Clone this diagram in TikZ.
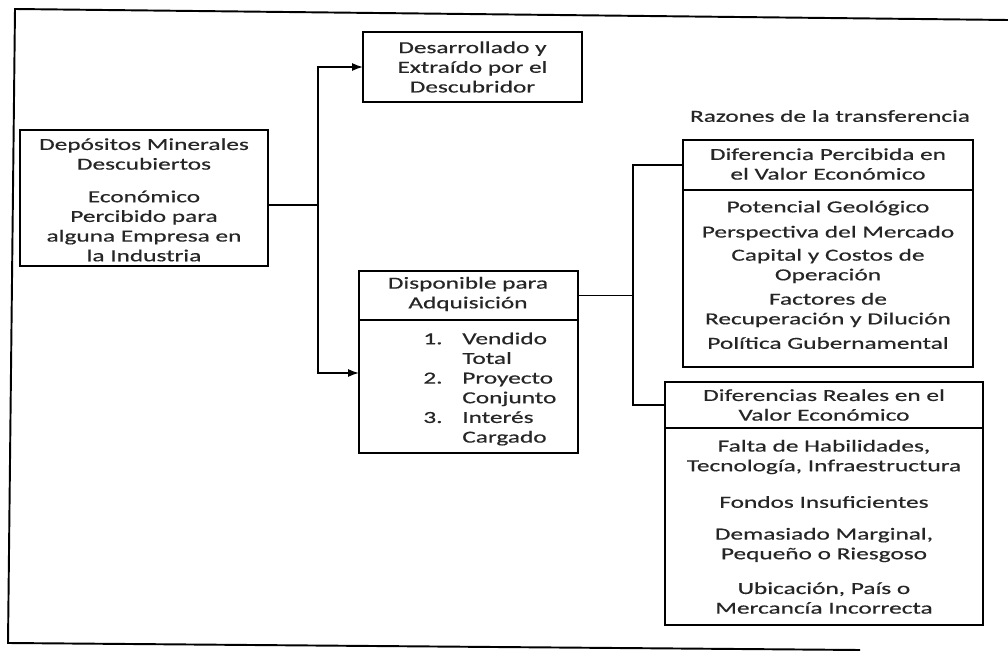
\documentclass[tikz,border=0pt]{standalone}
\usepackage{fontspec}
\usetikzlibrary{arrows.meta,fit}
\newfontfamily\boxfont[FakeStretch=1.5,FakeBold=0.5]{Carlito}
\tikzset{
  box/.style={draw, line width=0.9pt, inner sep=0pt, outer sep=0pt},
  txt/.style={align=center, inner sep=0pt, text=black!85, font=\boxfont\fontsize{9.6}{11.2}\selectfont},
  link/.style={line width=0.8pt},
  tip/.style={-{Latex[length=2.2mm,width=1.6mm]}}
}
\begin{document}
\begin{tikzpicture}[x=0.02cm,y=-0.02cm]
            \useasboundingbox (0,0) rectangle (1008,652);
            
            % Drawing outer frame
            \draw [line width=1.1pt] (1008,20) -- (15,9) -- (8,643) -- (860,650);%
            
            % Drawing box dep
            \node (dep) [box, fit={(20,130) (268,266)}] {};%
            \node (depa) [txt] at (144,154) {Depósitos Minerales\\Descubiertos};%
            \node (depb) [txt] at (144,226) {Económico\\Percibido para\\alguna Empresa en\\la Industria};%
            
            % Drawing box des
            \node (des) [box, fit={(363,32) (582,102)}] {};%
            \node (desa) [txt] at (des.center) {Desarrollado y\\Extraído por el\\Descubridor};%
            
            % Drawing box dpt / dpb
            \node (dpt) [box, fit={(359,271) (578,320)}] {};%
            \node (dpb) [box, fit={(359,320) (578,453)}] {};%
            \node (dpta) [txt] at (468,294) {Disponible para\\Adquisición};%
            \node (dpba) [txt, align=left, anchor=west] at (423,389)
              {\makebox[0.78cm][l]{1.}Vendido\\\hspace*{0.78cm}Total\\
               \makebox[0.78cm][l]{2.}Proyecto\\\hspace*{0.78cm}Conjunto\\
               \makebox[0.78cm][l]{3.}Interés\\\hspace*{0.78cm}Cargado};%
            
            % Drawing title raz
            \node (raz) [txt] at (830,116) {Razones de la transferencia};%
            
            % Drawing box pct / pcb
            \node (pct) [box, fit={(683,140) (973,190)}] {};%
            \node (pcb) [box, fit={(683,190) (973,367)}] {};%
            \node (pcta) [txt] at (828,164) {Diferencia Percibida en\\el Valor Económico};%
            \node (pcb1) [txt] at (828,208) {Potencial Geológico};%
            \node (pcb2) [txt] at (828,233) {Perspectiva del Mercado};%
            \node (pcb3) [txt] at (828,266) {Capital y Costos de\\Operación};%
            \node (pcb4) [txt] at (828,310) {Factores de\\Recuperación y Dilución};%
            \node (pcb5) [txt] at (828,343) {Política Gubernamental};%
            
            % Drawing box rlt / rlb
            \node (rlt) [box, fit={(665,382) (983,428)}] {};%
            \node (rlb) [box, fit={(665,428) (983,625)}] {};%
            \node (rlta) [txt] at (824,405) {Diferencias Reales en el\\Valor Económico};%
            \node (rlb1) [txt] at (824,457) {Falta de Habilidades,\\Tecnología, Infraestructura};%
            \node (rlb2) [txt] at (824,502) {Fondos Insuficientes};%
            \node (rlb3) [txt] at (824,545) {Demasiado Marginal,\\Pequeño o Riesgoso};%
            \node (rlb4) [txt] at (824,598) {Ubicación, País o\\Mercancía Incorrecta};%
            
            % Drawing connectors
            \coordinate (jl) at (318,205);%
            \coordinate (jr) at (633,296);%
            \draw [link] (dep.east |- jl) -- (jl);%
            \draw [link, tip] (jl) |- (des.west);%
            \draw [link, tip] (jl) |- ([yshift=0.27cm]dpb.west);%
            \draw [link] (dpt.east) -- (dpt.east -| jr);%
            \draw [link] (pct.west) -| (jr) |- (rlt.west);%
\end{tikzpicture}
\end{document}
